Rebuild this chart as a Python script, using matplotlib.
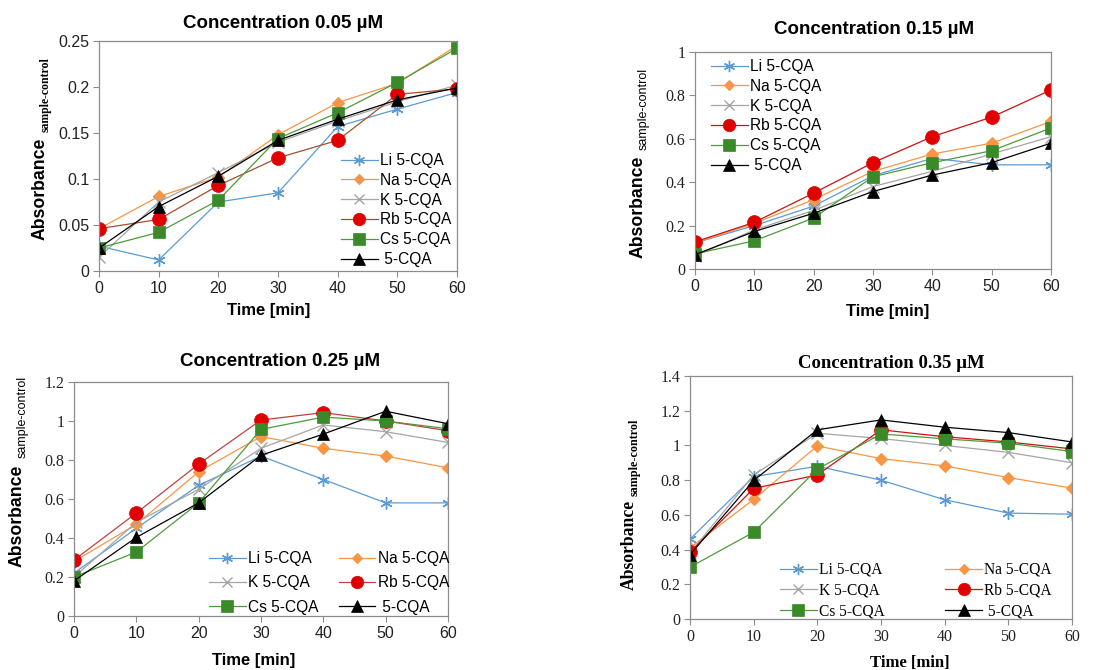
import matplotlib
matplotlib.use("Agg")
import matplotlib.pyplot as plt

time_min = [0, 10, 20, 30, 40, 50, 60]
series_names = ["Li 5-CQA", "Na 5-CQA", "K 5-CQA", "Rb 5-CQA", "Cs 5-CQA", " 5-CQA"]

# Concentration 0.05 uM
c005_li = [0.027, 0.012, 0.075, 0.085, 0.157, 0.176, 0.194]
c005_na = [0.046, 0.081, 0.102, 0.148, 0.183, 0.204, 0.245]
c005_k = [0.015, 0.075, 0.107, 0.140, 0.163, 0.184, 0.202]
c005_rb = [0.046, 0.056, 0.093, 0.123, 0.142, 0.192, 0.198]
c005_cs = [0.025, 0.042, 0.077, 0.144, 0.172, 0.205, 0.242]
c005_cqa = [0.025, 0.070, 0.103, 0.142, 0.165, 0.186, 0.199]

# Concentration 0.15 uM
c015_li = [0.12, 0.20, 0.29, 0.43, 0.51, 0.48, 0.48]
c015_na = [0.12, 0.21, 0.32, 0.45, 0.53, 0.58, 0.68]
c015_k = [0.06, 0.18, 0.27, 0.38, 0.45, 0.53, 0.61]
c015_rb = [0.125, 0.215, 0.35, 0.49, 0.61, 0.70, 0.825]
c015_cs = [0.07, 0.13, 0.235, 0.425, 0.49, 0.545, 0.65]
c015_cqa = [0.066, 0.173, 0.257, 0.357, 0.433, 0.49, 0.58]

# Concentration 0.25 uM
c025_li = [0.22, 0.45, 0.67, 0.82, 0.70, 0.58, 0.58]
c025_na = [0.28, 0.47, 0.74, 0.92, 0.86, 0.82, 0.76]
c025_k = [0.20, 0.48, 0.65, 0.86, 0.98, 0.945, 0.89]
c025_rb = [0.287, 0.528, 0.779, 1.005, 1.043, 1.00, 0.95]
c025_cs = [0.20, 0.328, 0.58, 0.957, 1.02, 1.00, 0.96]
c025_cqa = [0.18, 0.403, 0.58, 0.824, 0.933, 1.05, 0.986]

# Concentration 0.35 uM
c035_li = [0.46, 0.82, 0.88, 0.80, 0.687, 0.61, 0.604]
c035_na = [0.41, 0.689, 0.997, 0.924, 0.882, 0.815, 0.754]
c035_k = [0.38, 0.83, 1.07, 1.04, 1.00, 0.96, 0.90]
c035_rb = [0.384, 0.752, 0.83, 1.09, 1.05, 1.02, 0.98]
c035_cs = [0.299, 0.50, 0.863, 1.066, 1.038, 1.013, 0.965]
c035_cqa = [0.37, 0.798, 1.09, 1.147, 1.105, 1.074, 1.02]

styles = [
    dict(color="#5B9BD5", mfc="#5B9BD5", mec="#5B9BD5", marker=(6, 2, 0), ms=9, mew=1.0),
    dict(color="#F79646", mfc="#F79646", mec="#F79646", marker="D", ms=6, mew=0.8),
    dict(color="#A5A5A5", mfc="#A5A5A5", mec="#A5A5A5", marker="x", ms=8, mew=1.0),
    dict(color="#A0522D", mfc="#E00000", mec="#E00000", marker="o", ms=10, mew=0.5),
    dict(color="#4E9A3A", mfc="#3A8A2A", mec="#3A8A2A", marker="s", ms=9, mew=0.5),
    dict(color="#000000", mfc="#000000", mec="#000000", marker="^", ms=9, mew=0.5),
]

SANS = "Liberation Sans"
SERIF = "Liberation Serif"

fig = plt.figure(figsize=(10.96, 6.70), dpi=100)


def px(x, y):
    return x / 1096.0, 1 - y / 670.0


def fmt_plain(v):
    s = ("%.2f" % v).rstrip("0").rstrip(".")
    return s if s else "0"


def make_panel(rect, data, ymax, ystep, title, title_xy, xlabel_xy, ylab_x, ylab_bottom, sub_x, sub_bottom,
               yfont, xfont, titlefont, subfont, subsize, rb_color, leg_xy, ncol, labelspacing, colspacing):
    ax = fig.add_axes(rect)
    handles = []
    for vals, st, name in zip(data, styles, series_names):
        s = dict(st)
        if name.startswith("Rb"):
            s["color"] = rb_color
        h, = ax.plot(time_min, vals, lw=0.9, label=name, **s)
        handles.append(h)
    ax.set_xlim(0, 60)
    ax.set_ylim(0, ymax)
    ax.set_xticks(time_min)
    nt = int(round(ymax / ystep))
    yt = [i * ystep for i in range(nt + 1)]
    ax.set_yticks(yt)
    ax.set_yticklabels([fmt_plain(v) for v in yt], family=yfont, fontsize=11.5)
    ax.set_xticklabels([str(t) for t in time_min], family=xfont, fontsize=11.5)
    for sp in ax.spines.values():
        sp.set_color("#8C8C8C")
        sp.set_linewidth(0.9)
    ax.tick_params(direction="out", length=4, width=0.8, color="#8C8C8C", pad=3)
    for lab in ax.get_xticklabels() + ax.get_yticklabels():
        lab.set_color("#222222")
    fig.text(*px(*title_xy), title, ha="center", va="center", fontsize=13.5, fontweight="bold", family=titlefont)
    fig.text(*px(*xlabel_xy), "Time [min]", ha="center", va="center", fontsize=12, fontweight="bold", family=titlefont)
    fig.text(*px(ylab_x, ylab_bottom), "Absorbance", rotation=90, ha="center", va="bottom",
             fontsize=12.7, fontweight="bold", family=titlefont)
    fig.text(*px(sub_x, sub_bottom), "sample-control", rotation=90, ha="center", va="bottom",
             fontsize=subsize, fontweight="bold" if subfont == SERIF else "normal", family=subfont)
    if ncol == 1:
        hs = handles
    else:
        hs = [handles[i] for i in (0, 2, 4, 1, 3, 5)]
    leg = fig.legend(handles=hs, ncol=ncol, frameon=False, prop=dict(family=titlefont, size=11.2),
                     handlelength=2.35, handletextpad=0.15, labelspacing=labelspacing, columnspacing=colspacing,
                     borderpad=0, borderaxespad=0, loc="upper left",
                     bbox_to_anchor=px(*leg_xy), bbox_transform=fig.transFigure)
    for lh in leg.legend_handles:
        lh.set_markersize(lh.get_markersize() * 0.9)
    return ax


make_panel([99 / 1096, 1 - 271 / 670, (457 - 99) / 1096, (271 - 41) / 670],
           [c005_li, c005_na, c005_k, c005_rb, c005_cs, c005_cqa], 0.25, 0.05,
           "Concentration 0.05 \u00b5M", (283, 24), (269, 310), 40, 240, 46, 132,
           SANS, SANS, SANS, SERIF, 8.5, "#A0522D", (341, 153), 1, 0.31, 1.0)

make_panel([695 / 1096, 1 - 269 / 670, (1051 - 695) / 1096, (269 - 52) / 670],
           [c015_li, c015_na, c015_k, c015_rb, c015_cs, c015_cqa], 1.0, 0.2,
           "Concentration 0.15 \u00b5M", (874, 30), (888, 311), 638, 258, 644, 150,
           SERIF, SANS, SANS, SANS, 9.0, "#D01010", (711, 59), 1, 0.31, 1.0)

make_panel([74 / 1096, 1 - 616 / 670, (448 - 74) / 1096, (616 - 382) / 670],
           [c025_li, c025_na, c025_k, c025_rb, c025_cs, c025_cqa], 1.2, 0.2,
           "Concentration 0.25 \u00b5M", (280, 362), (254, 660), 17, 567, 23, 458,
           SERIF, SANS, SANS, SANS, 9.0, "#C04040", (209, 551), 2, 0.6, 1.3)

make_panel([690 / 1096, 1 - 619 / 670, (1072 - 690) / 1096, (619 - 376) / 670],
           [c035_li, c035_na, c035_k, c035_rb, c035_cs, c035_cqa], 1.4, 0.2,
           "Concentration 0.35 \u00b5M", (891, 363), (910, 663), 629, 590, 635, 496,
           SERIF, SERIF, SERIF, SERIF, 8.7, "#D01010", (780, 562), 2, 0.31, 3.9)

fig.savefig("out.png", dpi=100)
